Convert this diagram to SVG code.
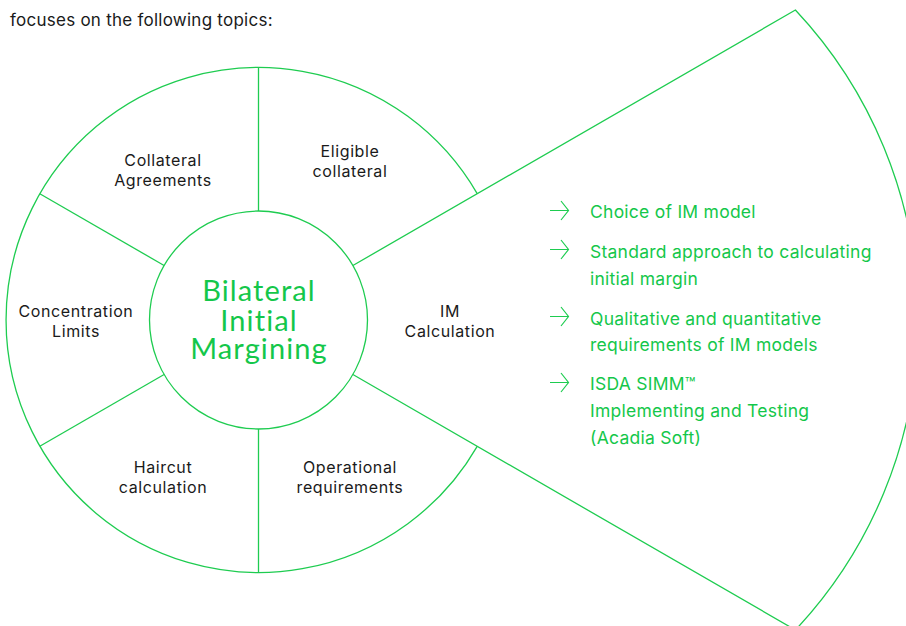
<svg xmlns="http://www.w3.org/2000/svg" width="906" height="626" viewBox="0 0 906 626">
  <defs>
    <style>
      .ln { fill: none; stroke: #1ecc50; stroke-width: 1.3; }
      .lbl { font-family: Inter, "Liberation Sans", sans-serif; font-size: 16px; letter-spacing: 0.6px; fill: #1a1a1a; text-anchor: middle; }
      .intro { font-family: Inter, "Liberation Sans", sans-serif; font-size: 17px; letter-spacing: 0.25px; fill: #1a1a1a; }
      .hub { font-family: Lato, "Open Sans", sans-serif; font-size: 29px; font-weight: 400; letter-spacing: 1.1px; fill: #14c74a; text-anchor: middle; }
      .item { font-family: Inter, "Liberation Sans", sans-serif; font-size: 17.5px; letter-spacing: 0.25px; fill: #14c74a; }
      .arr { fill: none; stroke: #1ecc50; stroke-width: 1.2; }
    </style>
  </defs>
  <rect width="906" height="626" fill="#ffffff"/>

  <text class="intro" x="10" y="26">focuses on the following topics:</text>

  <!-- fan-shaped callout for the IM calculation segment -->
  <g id="im-fan">
    <path class="ln" d="M352.9 265.5 L795.4 10 A453 453 0 0 1 795.4 630 L352.9 374.5"/>
  </g>

  <!-- outer ring (open on the right) and dividers -->
  <g id="dividers">
    <path class="ln" d="M477.2 193.7 A252.5 252.5 0 1 0 477.2 446.3"/>
    <line class="ln" x1="258.5" y1="211" x2="258.5" y2="67.5"/>
    <line class="ln" x1="258.5" y1="429" x2="258.5" y2="572.5"/>
    <line class="ln" x1="164.1" y1="265.5" x2="39.8" y2="193.7"/>
    <line class="ln" x1="164.1" y1="374.5" x2="39.8" y2="446.3"/>
  </g>

  <g id="hub">
    <circle class="ln" cx="258.5" cy="320" r="109"/>
    <text class="hub" x="259" y="301">Bilateral</text>
    <text class="hub" x="259" y="331">Initial</text>
    <text class="hub" x="259" y="359">Margining</text>
  </g>

  <g id="collateral-agreements">
    <text class="lbl" x="163" y="166">Collateral</text>
    <text class="lbl" x="163" y="186">Agreements</text>
  </g>
  <g id="eligible-collateral">
    <text class="lbl" x="350" y="157">Eligible</text>
    <text class="lbl" x="350" y="177">collateral</text>
  </g>
  <g id="concentration-limits">
    <text class="lbl" x="76" y="317">Concentration</text>
    <text class="lbl" x="76" y="337">Limits</text>
  </g>
  <g id="im-calculation">
    <text class="lbl" x="450" y="317">IM</text>
    <text class="lbl" x="450" y="337">Calculation</text>
  </g>
  <g id="haircut-calculation">
    <text class="lbl" x="163" y="473">Haircut</text>
    <text class="lbl" x="163" y="493">calculation</text>
  </g>
  <g id="operational-requirements">
    <text class="lbl" x="350" y="473">Operational</text>
    <text class="lbl" x="350" y="493">requirements</text>
  </g>

  <!-- IM calculation topics -->
  <g id="im-topics">
    <g class="arr">
      <path d="M550 210.5 H568.5 M561 201 L568.5 210.5 L561 220"/>
      <path d="M550 249.5 H568.5 M561 240 L568.5 249.5 L561 259"/>
      <path d="M550 316.5 H568.5 M561 307 L568.5 316.5 L561 326"/>
      <path d="M550 382.5 H568.5 M561 373 L568.5 382.5 L561 392"/>
    </g>
    <text class="item" x="590" y="218">Choice of IM model</text>
    <text class="item" x="590" y="258">Standard approach to calculating</text>
    <text class="item" x="590" y="285">initial margin</text>
    <text class="item" x="590" y="325">Qualitative and quantitative</text>
    <text class="item" x="590" y="351">requirements of IM models</text>
    <text class="item" x="590" y="390">ISDA SIMM™</text>
    <text class="item" x="590" y="417">Implementing and Testing</text>
    <text class="item" x="590" y="444">(Acadia Soft)</text>
  </g>
</svg>
